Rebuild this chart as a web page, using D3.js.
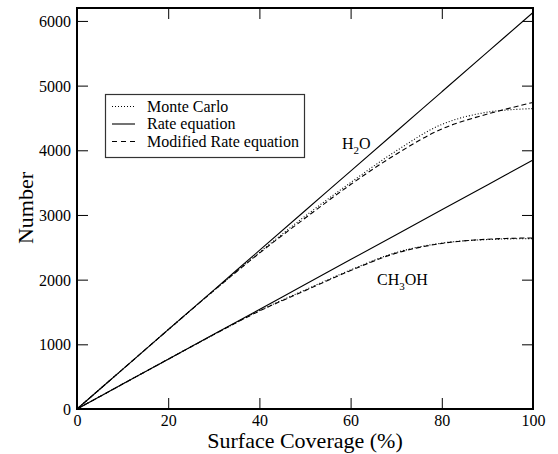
<!DOCTYPE html>
<html>
<head>
<meta charset="utf-8">
<script src="https://cdn.jsdelivr.net/npm/d3@7"></script>
<style>
  html, body { margin: 0; padding: 0; background: #fff; }
  svg { display: block; font-family: "Liberation Serif", "DejaVu Serif", serif; }
</style>
</head>
<body>
<svg id="chart" width="558" height="454"></svg>
<script>
// Surface coverage (%) sampled for each curve
const coverage = [0, 10, 20, 30, 40, 50, 60, 70, 80, 90, 100];

// H2O
const h2oMonteCarlo = [0, 613, 1226, 1830, 2420, 2980, 3500, 3990, 4400, 4590, 4645];
const h2oRate       = [0, 613, 1226, 1839, 2452, 3065, 3678, 4291, 4904, 5517, 6130];
const h2oModified   = [0, 613, 1226, 1830, 2410, 2950, 3470, 3940, 4330, 4560, 4740];

// CH3OH
const ch3ohMonteCarlo = [0, 385, 770, 1150, 1520, 1840, 2150, 2420, 2565, 2620, 2635];
const ch3ohRate       = [0, 385, 770, 1155, 1540, 1925, 2310, 2695, 3080, 3465, 3850];
const ch3ohModified   = [0, 385, 770, 1150, 1515, 1830, 2140, 2410, 2560, 2625, 2645];

const xTicks = [0, 20, 40, 60, 80, 100];
const yTicks = [0, 1000, 2000, 3000, 4000, 5000, 6000];

const legendItems = [
  { label: "Monte Carlo", dash: "1,2" },
  { label: "Rate equation", dash: null },
  { label: "Modified Rate equation", dash: "5,4" }
];

const svg = d3.select("#chart");
const plot = { left: 77, right: 533, top: 8, bottom: 409 };

const x = d3.scaleLinear().domain([0, 100]).range([plot.left, plot.right]);
const y = d3.scaleLinear().domain([0, 6200]).range([plot.bottom, plot.top]);

// Data curves
const line = d3.line()
  .x((d, i) => x(coverage[i]))
  .y(d => y(d))
  .curve(d3.curveCatmullRom.alpha(0.5));

const series = [
  { values: h2oRate, dash: null },
  { values: h2oMonteCarlo, dash: "1,2" },
  { values: h2oModified, dash: "5,3" },
  { values: ch3ohRate, dash: null },
  { values: ch3ohMonteCarlo, dash: "1,2" },
  { values: ch3ohModified, dash: "5,3" }
];

svg.append("g").selectAll("path")
  .data(series)
  .join("path")
  .attr("d", d => line(d.values))
  .attr("fill", "none")
  .attr("stroke", "#000")
  .attr("stroke-width", 1.1)
  .attr("stroke-dasharray", d => d.dash);

// Axes with inward ticks on all four sides
const tickLen = 11;
const axisFont = 16;
const fmt = d3.format("d");

const bottomAxis = svg.append("g")
  .attr("transform", `translate(0,${plot.bottom})`)
  .call(d3.axisBottom(x).tickValues(xTicks).tickFormat(fmt).tickSizeInner(-tickLen).tickSizeOuter(0).tickPadding(6));
const topAxis = svg.append("g")
  .attr("transform", `translate(0,${plot.top})`)
  .call(d3.axisTop(x).tickValues(xTicks).tickSizeInner(-tickLen).tickSizeOuter(0).tickFormat(""));
const leftAxis = svg.append("g")
  .attr("transform", `translate(${plot.left},0)`)
  .call(d3.axisLeft(y).tickValues(yTicks).tickFormat(fmt).tickSizeInner(-tickLen).tickSizeOuter(0).tickPadding(6));
const rightAxis = svg.append("g")
  .attr("transform", `translate(${plot.right},0)`)
  .call(d3.axisRight(y).tickValues(yTicks).tickSizeInner(-tickLen).tickSizeOuter(0).tickFormat(""));

[bottomAxis, topAxis, leftAxis, rightAxis].forEach(g => {
  g.attr("font-family", null).attr("font-size", null);
  g.select(".domain").remove();
  g.selectAll(".tick line").attr("stroke", "#000").attr("stroke-width", 1);
  g.selectAll(".tick text")
    .style("font-family", "'Liberation Serif', serif")
    .style("font-size", axisFont + "px")
    .attr("fill", "#000");
});
bottomAxis.selectAll(".tick text").attr("dy", "0.71em");
leftAxis.selectAll(".tick text").attr("dy", "0.34em");

// Frame
svg.append("rect")
  .attr("x", plot.left).attr("y", plot.top)
  .attr("width", plot.right - plot.left).attr("height", plot.bottom - plot.top)
  .attr("fill", "none").attr("stroke", "#000").attr("stroke-width", 2);

// Axis titles
svg.append("text")
  .attr("x", (plot.left + plot.right) / 2).attr("y", 448)
  .attr("text-anchor", "middle")
  .attr("font-size", 22)
  .text("Surface Coverage (%)");

svg.append("text")
  .attr("transform", "translate(33,208) rotate(-90)")
  .attr("text-anchor", "middle")
  .attr("font-size", 22)
  .text("Number");

// Species labels
const h2oLabel = svg.append("text").attr("x", 342).attr("y", 149).attr("font-size", 16);
h2oLabel.append("tspan").text("H");
h2oLabel.append("tspan").attr("font-size", 11).attr("dy", 5).text("2");
h2oLabel.append("tspan").attr("dy", -5).text("O");

const chLabel = svg.append("text").attr("x", 377).attr("y", 285).attr("font-size", 16);
chLabel.append("tspan").text("CH");
chLabel.append("tspan").attr("font-size", 11).attr("dy", 5).text("3");
chLabel.append("tspan").attr("dy", -5).text("OH");

// Legend
const legend = svg.append("g");
legend.append("rect")
  .attr("x", 105.5).attr("y", 94.5)
  .attr("width", 199).attr("height", 63)
  .attr("fill", "#fff").attr("stroke", "#333").attr("stroke-width", 1.2);

const rowY = [111.5, 129, 146.5];
legendItems.forEach((item, i) => {
  legend.append("line")
    .attr("x1", 112).attr("x2", 135)
    .attr("y1", rowY[i] - 5).attr("y2", rowY[i] - 5)
    .attr("stroke", "#000").attr("stroke-width", 1.1)
    .attr("stroke-dasharray", item.dash);
  legend.append("text")
    .attr("x", 147).attr("y", rowY[i])
    .attr("font-size", 16)
    .text(item.label);
});
</script>
</body>
</html>
